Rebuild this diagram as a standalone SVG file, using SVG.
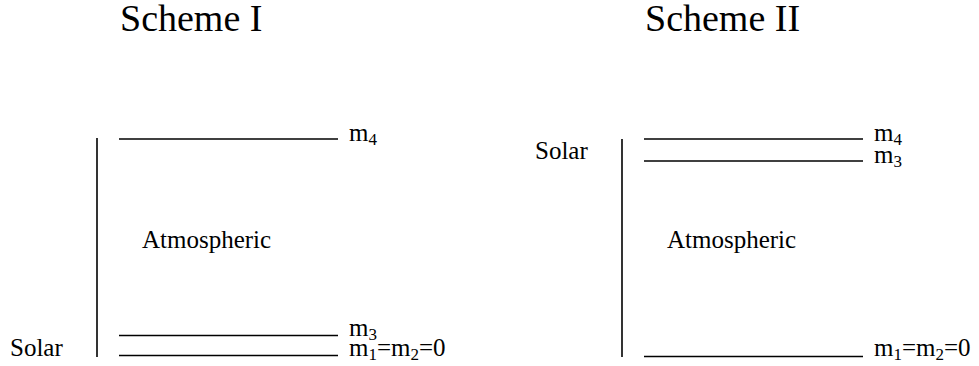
<svg xmlns="http://www.w3.org/2000/svg" width="979" height="366" viewBox="0 0 979 366">
<style>
text{font-family:"Liberation Serif","Times New Roman",serif;fill:#000}
.t{font-size:38px}
.l{font-size:25px}
.s{font-size:17px}
line{stroke:#000;stroke-width:1.6}
</style>
<rect width="979" height="366" fill="#fff"/>
<g id="scheme1">
<text class="t" x="120" y="31">Scheme I</text>
<g id="s1-axis"><line x1="97" y1="138" x2="97" y2="357"/></g>
<g id="s1-m4"><line x1="119" y1="139" x2="338" y2="139"/><text class="l" x="349" y="141">m<tspan class="s" dy="4">4</tspan></text></g>
<g id="s1-m3"><line x1="119" y1="335.5" x2="338" y2="335.5"/><text class="l" x="349" y="336">m<tspan class="s" dy="4">3</tspan></text></g>
<g id="s1-m12"><line x1="119" y1="355.5" x2="338" y2="355.5"/><text class="l" x="349" y="356">m<tspan class="s" dy="4">1</tspan><tspan dy="-4">=m</tspan><tspan class="s" dy="4">2</tspan><tspan dy="-4">=0</tspan></text></g>
<text class="l" x="142" y="248">Atmospheric</text>
<text class="l" x="10" y="356">Solar</text>
</g>
<g id="scheme2">
<text class="t" x="645" y="31">Scheme II</text>
<g id="s2-axis"><line x1="622" y1="139" x2="622" y2="357"/></g>
<g id="s2-m4"><line x1="644" y1="139" x2="863" y2="139"/><text class="l" x="874" y="141">m<tspan class="s" dy="4">4</tspan></text></g>
<g id="s2-m3"><line x1="644" y1="161" x2="863" y2="161"/><text class="l" x="874" y="163">m<tspan class="s" dy="4">3</tspan></text></g>
<g id="s2-m12"><line x1="644" y1="356.5" x2="863" y2="356.5"/><text class="l" x="874" y="356">m<tspan class="s" dy="4">1</tspan><tspan dy="-4">=m</tspan><tspan class="s" dy="4">2</tspan><tspan dy="-4">=0</tspan></text></g>
<text class="l" x="667" y="248">Atmospheric</text>
<text class="l" x="535" y="159">Solar</text>
</g>
</svg>
